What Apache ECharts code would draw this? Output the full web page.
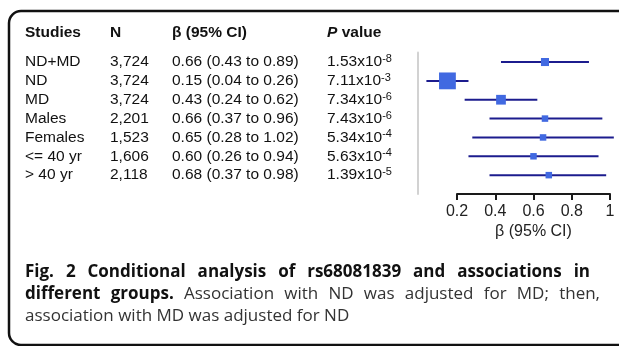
<!DOCTYPE html>
<html>
<head>
<meta charset="utf-8">
<script src="https://cdn.jsdelivr.net/npm/echarts@6/dist/echarts.min.js"></script>
<style>
html, body { margin: 0; padding: 0; background: #fff; }
#chart { width: 619px; height: 346px; }
</style>
</head>
<body>
<div id="chart"></div>
<script>
// table + forest data
var studies = ['ND+MD', 'ND', 'MD', 'Males', 'Females', '<= 40 yr', '> 40 yr'];
var sampleN = ['3,724', '3,724', '3,724', '2,201', '1,523', '1,606', '2,118'];
var beta = [0.66, 0.15, 0.43, 0.66, 0.65, 0.60, 0.68];
var ciLow = [0.43, 0.04, 0.24, 0.37, 0.28, 0.26, 0.37];
var ciHigh = [0.89, 0.26, 0.62, 0.96, 1.02, 0.94, 0.98];
var pMantissa = ['1.53', '7.11', '7.34', '7.43', '5.34', '5.63', '1.39'];
var pExponent = ['-8', '-3', '-6', '-6', '-4', '-4', '-5'];

var chartDom = document.getElementById('chart');
var myChart = echarts.init(chartDom);

var tableFont = 'Liberation Sans, Arial, sans-serif';
var capFont = '"Open Sans", "Noto Sans", sans-serif';

function fmt(v) { return v.toFixed(2); }

var forestData = [];
for (var i = 0; i < studies.length; i++) {
    // box side shrinks as the CI widens
    var size = Math.max(6.5, 3.7 / (ciHigh[i] - ciLow[i]));
    forestData.push([i, ciLow[i], ciHigh[i], beta[i], size]);
}

var option = {
    animation: false,
    grid: {
        left: 457,
        width: 153,
        top: 52.6,
        height: 141.4
    },
    xAxis: {
        type: 'value',
        min: 0.2,
        max: 1,
        interval: 0.2,
        splitLine: { show: false },
        axisLine: { onZero: false, lineStyle: { color: '#1a1a1a', width: 2 } },
        axisTick: { length: 6, lineStyle: { color: '#1a1a1a', width: 2 } },
        axisLabel: {
            color: '#222',
            fontFamily: tableFont,
            fontSize: 16,
            margin: 10
        },
        name: 'β (95% CI)',
        nameLocation: 'middle',
        nameGap: 30,
        nameTextStyle: { color: '#222', fontFamily: tableFont, fontSize: 16 }
    },
    yAxis: {
        type: 'value',
        min: -0.5,
        max: 7,
        inverse: true,
        offset: 39,
        splitLine: { show: false },
        axisLabel: { show: false },
        axisTick: { show: false },
        axisLine: { show: true, onZero: false, lineStyle: { color: '#d2d2d2', width: 2 } }
    },
    series: [
        {
            type: 'custom',
            encode: { x: [1, 2, 3], y: 0 },
            renderItem: function (params, api) {
                var lo = api.coord([api.value(1), api.value(0)]);
                var hi = api.coord([api.value(2), api.value(0)]);
                var c = api.coord([api.value(3), api.value(0)]);
                var s = api.value(4);
                return {
                    type: 'group',
                    children: [
                        {
                            type: 'line',
                            shape: { x1: lo[0], y1: lo[1], x2: hi[0], y2: hi[1] },
                            style: { stroke: '#1c1c8e', lineWidth: 2 }
                        },
                        {
                            type: 'rect',
                            shape: { x: c[0] - s / 2, y: c[1] - s / 2, width: s, height: s },
                            style: { fill: '#4169e1' }
                        }
                    ]
                };
            },
            data: forestData
        }
    ]
};

myChart.setOption(option);

var cols = [25, 110, 172, 327];
var headY = 33;
var graphics = [];

// rounded frame, runs off the right edge
graphics.push({
    type: 'rect',
    shape: { x: 9, y: 11, width: 700, height: 334, r: 12 },
    style: { fill: null, stroke: '#111', lineWidth: 2.5 },
    silent: true
});

var heads = ['Studies', 'N', 'β (95% CI)'];
for (var h = 0; h < heads.length; h++) {
    graphics.push({
        type: 'text', x: cols[h], y: headY,
        style: { text: heads[h], font: 'bold 15.5px ' + tableFont, fill: '#111', verticalAlign: 'middle' }
    });
}
graphics.push({
    type: 'text', x: cols[3], y: headY,
    style: {
        text: '{i|P}{b| value}', verticalAlign: 'middle',
        rich: {
            i: { font: 'italic bold 15.5px ' + tableFont, fill: '#111' },
            b: { font: 'bold 15.5px ' + tableFont, fill: '#111' }
        }
    }
});

for (var r = 0; r < studies.length; r++) {
    var y = myChart.convertToPixel({ yAxisIndex: 0 }, r);
    var cells = [studies[r], sampleN[r], fmt(beta[r]) + ' (' + fmt(ciLow[r]) + ' to ' + fmt(ciHigh[r]) + ')'];
    for (var c = 0; c < cells.length; c++) {
        graphics.push({
            type: 'text', x: cols[c], y: y,
            style: { text: cells[c], font: '15.5px ' + tableFont, fill: '#111', verticalAlign: 'middle' }
        });
    }
    graphics.push({
        type: 'text', x: cols[3], y: y,
        style: {
            text: '{m|' + pMantissa[r] + 'x10}{s|' + pExponent[r] + '}',
            verticalAlign: 'middle',
            rich: {
                m: { font: '15.5px ' + tableFont, fill: '#111', lineHeight: 17 },
                s: { font: '11px ' + tableFont, fill: '#111', verticalAlign: 'top', lineHeight: 17, padding: [0, 0, 6, 0] }
            }
        }
    });
}

// caption, first two lines justified like the journal layout
var capBold = 'bold 17px ' + capFont;
var capReg = '17px ' + capFont;
var capLines = [
    { segs: [['Fig. 2 Conditional analysis of rs68081839 and associations in', capBold, '#111']], right: 590 },
    { segs: [['different groups.', capBold, '#111'], ['Association with ND was adjusted for MD; then,', capReg, '#333']], right: 600 },
    { segs: [['association with MD was adjusted for ND', capReg, '#333']], right: null }
];
var capY = [272, 294, 316];
var ctx = document.createElement('canvas').getContext('2d');

for (var k = 0; k < capLines.length; k++) {
    var words = [];
    capLines[k].segs.forEach(function (seg) {
        seg[0].split(' ').forEach(function (w) {
            ctx.font = seg[1];
            words.push({ t: w, font: seg[1], fill: seg[2], w: ctx.measureText(w).width });
        });
    });
    ctx.font = capReg;
    var space = ctx.measureText(' ').width;
    var total = 0;
    words.forEach(function (wd) { total += wd.w; });
    var gap = space;
    if (capLines[k].right) {
        gap = (capLines[k].right - 25 - total) / (words.length - 1);
    }
    var xx = 25;
    words.forEach(function (wd) {
        graphics.push({
            type: 'text', x: xx, y: capY[k],
            style: { text: wd.t, font: wd.font, fill: wd.fill, verticalAlign: 'middle' }
        });
        xx += wd.w + gap;
    });
}

myChart.setOption({ graphic: graphics });
</script>
</body>
</html>
